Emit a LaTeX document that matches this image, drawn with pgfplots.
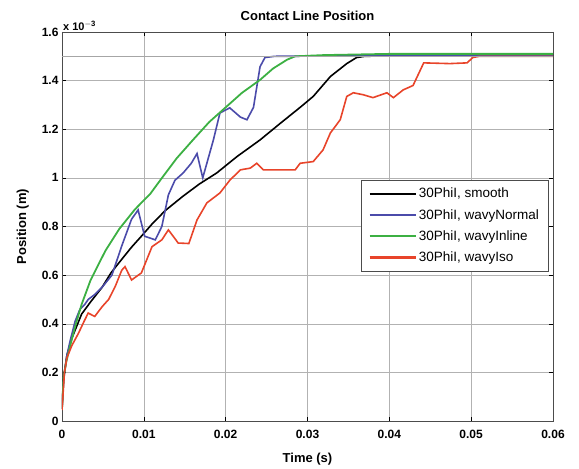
\documentclass[border=0pt]{standalone}
\usepackage{fontspec}
\setmainfont{Liberation Sans}
\usepackage{pgfplots}
\pgfplotsset{compat=1.18}
\definecolor{cblue}{HTML}{4B4BAA}
\definecolor{cgreen}{HTML}{3CB043}
\definecolor{cred}{HTML}{E8442A}
\begin{document}
\begin{tikzpicture}
\path[draw=none] (-62pt,-47pt) rectangle (517pt,421pt);
\begin{axis}[
  scale only axis,
  width=491pt, height=389pt,
  xmin=0, xmax=0.06, ymin=0, ymax=1.6,
  scaled x ticks=false, scaled y ticks=false,
  xtick={0,0.01,0.02,0.03,0.04,0.05,0.06},
  ytick={0,0.2,0.4,0.6,0.8,1,1.2,1.4,1.6},
  xticklabels={0,0.01,0.02,0.03,0.04,0.05,0.06},
  yticklabels={0,0.2,0.4,0.6,0.8,1,1.2,1.4,1.6},
  tick align=inside,
  tick style={black, thin},
  major tick length=4pt,
  grid=major,
  grid style={gray!60, thin},
  axis line style={black!70},
  ticklabel style={font=\fontsize{12}{14}\selectfont\bfseries},
  xticklabel style={yshift=-6pt},
  title={\bfseries Contact Line Position},
  title style={font=\fontsize{13}{15}\selectfont, yshift=2pt},
  xlabel={\bfseries Time (s)},
  ylabel={\bfseries Position (m)},
  label style={font=\fontsize{13}{15}\selectfont},
  xlabel style={yshift=-7pt},
  ylabel style={yshift=6pt},
  legend style={at={(0.99,0.62)}, anchor=north east, font=\fontsize{13.5}{15}\selectfont,
    draw=black!70, row sep=6pt, inner xsep=7pt, inner ysep=6pt},
  legend cell align=left,
  legend image code/.code={\draw[#1, line cap=butt, line width=2.2pt] (0pt,0pt) -- (46pt,0pt);},
]
\addplot[black, line width=1.6pt] coordinates {
(0,0.05)(0.0002,0.18)(0.0006,0.27)(0.0012,0.34)(0.0024,0.44)(0.0035,0.49)(0.0049,0.55)(0.006,0.61)(0.0073,0.665)(0.0085,0.715)(0.0097,0.76)(0.011,0.81)(0.0126,0.865)(0.0148,0.925)(0.0168,0.975)(0.0189,1.02)(0.0214,1.088)(0.0242,1.156)(0.0267,1.225)(0.0291,1.29)(0.0307,1.335)(0.0328,1.417)(0.0348,1.47)(0.036,1.495)(0.037,1.50)(0.045,1.505)(0.06,1.505)};
\addlegendentry{30PhiI, smooth}
\addplot[cblue, line width=1.6pt] coordinates {
(0,0.05)(0.0002,0.17)(0.0006,0.27)(0.001,0.33)(0.0016,0.41)(0.0022,0.46)(0.0028,0.48)(0.0032,0.50)(0.004,0.52)(0.0049,0.55)(0.0061,0.60)(0.0073,0.72)(0.0085,0.83)(0.0093,0.868)(0.0101,0.76)(0.0114,0.745)(0.0122,0.80)(0.013,0.93)(0.0138,0.99)(0.0148,1.02)(0.0158,1.06)(0.0165,1.10)(0.0172,1.0)(0.0185,1.156)(0.0193,1.267)(0.0205,1.288)(0.0218,1.25)(0.0226,1.239)(0.0234,1.29)(0.0242,1.457)(0.0248,1.495)(0.026,1.50)(0.06,1.505)};
\addlegendentry{30PhiI, wavyNormal}
\addplot[cgreen, line width=1.8pt] coordinates {
(0,0.05)(0.0002,0.18)(0.0005,0.24)(0.001,0.31)(0.0017,0.40)(0.0024,0.48)(0.0035,0.58)(0.0053,0.70)(0.007,0.79)(0.0089,0.87)(0.0108,0.935)(0.012,0.99)(0.014,1.08)(0.016,1.156)(0.018,1.23)(0.0201,1.293)(0.022,1.35)(0.0242,1.403)(0.0258,1.45)(0.0275,1.486)(0.0285,1.50)(0.032,1.505)(0.04,1.51)(0.05,1.51)(0.06,1.51)};
\addlegendentry{30PhiI, wavyInline}
\addplot[cred, line width=1.6pt] coordinates {
(0,0.045)(0.0003,0.2)(0.0006,0.26)(0.0012,0.31)(0.002,0.36)(0.0027,0.41)(0.0032,0.444)(0.004,0.43)(0.0049,0.47)(0.0057,0.50)(0.0065,0.553)(0.0073,0.62)(0.0077,0.635)(0.0085,0.58)(0.0097,0.609)(0.011,0.717)(0.0122,0.745)(0.013,0.786)(0.0142,0.732)(0.0155,0.73)(0.0165,0.827)(0.0177,0.897)(0.0193,0.938)(0.0205,0.99)(0.0218,1.033)(0.023,1.04)(0.0238,1.06)(0.0246,1.033)(0.0285,1.033)(0.0291,1.06)(0.0307,1.067)(0.0319,1.115)(0.0328,1.185)(0.034,1.239)(0.0348,1.335)(0.0356,1.35)(0.0368,1.342)(0.038,1.33)(0.0397,1.35)(0.0405,1.33)(0.0417,1.362)(0.0429,1.38)(0.0436,1.43)(0.0442,1.473)(0.0474,1.47)(0.0495,1.473)(0.0502,1.495)(0.051,1.50)(0.06,1.50)};
\addlegendentry{30PhiI, wavyIso}
\addplot[gray!70, thin, forget plot] coordinates {(0,1.5)(0.06,1.5)};
\end{axis}
\node[anchor=south west, font=\fontsize{11}{13}\selectfont\bfseries, inner sep=1pt] at (current axis.north west) {x 10$^{\mathbf{-3}}$};
\end{tikzpicture}
\end{document}
